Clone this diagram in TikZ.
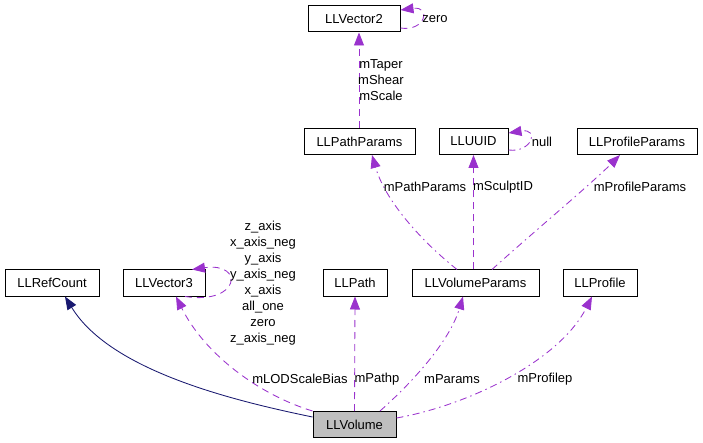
\documentclass[tikz,border=0pt]{standalone}
\usepackage{fontspec}
\setmainfont{Liberation Sans}
\usetikzlibrary{arrows.meta}
\definecolor{usecol}{HTML}{9A32CD}
\definecolor{inhcol}{HTML}{191970}
\definecolor{volfill}{HTML}{BFBFBF}
\tikzset{
  cls/.style={draw=black, line width=1pt, minimum height=26pt, inner sep=0pt, font=\fontsize{13}{16}\selectfont},
  lbl/.style={inner sep=0pt, align=center, font=\fontsize{13}{16}\selectfont},
  usedash/.style={draw=usecol, line width=0.85pt, dash pattern=on 7pt off 5pt, -{Triangle[length=13pt,width=10pt,fill=usecol]}},
  usedot/.style={draw=usecol, line width=0.85pt, dash pattern=on 7pt off 4pt on 1.5pt off 4pt, -{Triangle[length=13pt,width=10pt,fill=usecol]}},
  inh/.style={draw=inhcol, line width=0.85pt, -{Triangle[length=13pt,width=10pt,fill=inhcol]}}
}
\begin{document}
\begin{tikzpicture}[x=1pt,y=-1pt]
\useasboundingbox (0,0) rectangle (703,443);
% classes
\node[cls, minimum width=92pt] (v2) at (354,19) {LLVector2};
\node[cls, minimum width=111pt] (pp) at (359.5,141.5) {LLPathParams};
\node[cls, minimum width=69pt] (uuid) at (473.5,141.5) {LLUUID};
\node[cls, minimum width=120pt] (ppar) at (637,141.5) {LLProfileParams};
\node[cls, minimum width=94pt] (refc) at (52,283) {LLRefCount};
\node[cls, minimum width=82pt] (v3) at (164,283) {LLVector3};
\node[cls, minimum width=64pt] (path) at (355,283) {LLPath};
\node[cls, minimum width=127pt] (vp) at (475.5,283) {LLVolumeParams};
\node[cls, minimum width=74pt] (prof) at (600,283) {LLProfile};
\node[cls, minimum width=83pt, fill=volfill] (vol) at (354.5,424.5) {LLVolume};
% edges
\draw[inh] ([yshift=7.5pt]vol.west) .. controls (230,400) and (110,370) .. ([xshift=13pt]refc.south);
\draw[usedash] (vol.north west) .. controls (260,395) and (205,355) .. ([xshift=12pt]v3.south);
\draw[usedash] (vol.north) -- (path.south);
\draw[usedot] ([xshift=25.5pt]vol.north) .. controls (415,380) and (450,340) .. ([xshift=-12.5pt]vp.south);
\draw[usedot] ([yshift=6.5pt]vol.east) .. controls (470,405) and (560,360) .. ([xshift=-8pt]prof.south);
\draw[usedot] ([xshift=-18.5pt]vp.north) .. controls (420,240) and (385,200) .. ([xshift=12.5pt]pp.south);
\draw[usedash] ([xshift=-2pt]vp.north) -- (uuid.south);
\draw[usedot] ([xshift=16.5pt]vp.north) .. controls (530,235) and (590,185) .. ([xshift=-17pt]ppar.south);
\draw[usedash] ([xshift=-0.5pt]pp.north) -- ([xshift=5pt]v2.south);
% self loops
\draw[usedash] ([xshift=21pt]v3.south) .. controls (240,305) and (245,262) .. ([xshift=28pt]v3.north);
\draw[usedash] ([yshift=-9pt]v2.east) .. controls (425,32) and (432,6) .. ([yshift=9pt]v2.east);
\draw[usedot] ([yshift=-8.5pt]uuid.east) .. controls (532,153) and (540,128) .. ([yshift=8.5pt]uuid.east);
% labels
\node[lbl] (l1) at (300,379) {mLODScaleBias};
\node[lbl] (l2) at (377,379) {mPathp};
\node[lbl] (l3) at (452,379) {mParams};
\node[lbl] (l4) at (545,379) {mProfilep};
\node[lbl] (l5) at (425,187) {mPathParams};
\node[lbl] (l6) at (503,187) {mSculptID};
\node[lbl] (l7) at (640,187) {mProfileParams};
\node[lbl] (l8) at (381,80) {mTaper\\mShear\\mScale};
\node[lbl] (l9) at (263,283) {z\_axis\\x\_axis\_neg\\y\_axis\\y\_axis\_neg\\x\_axis\\all\_one\\zero\\z\_axis\_neg};
\node[lbl] (l10) at (435,19) {zero};
\node[lbl] (l11) at (542,142) {null};
\end{tikzpicture}
\end{document}
